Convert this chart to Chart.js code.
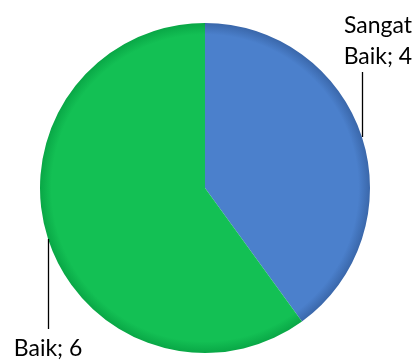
<!DOCTYPE html>
<html>
<head>
<meta charset="utf-8">
<script src="https://cdn.jsdelivr.net/npm/chart.js@4/dist/chart.umd.min.js"></script>
<style>
  html, body { margin: 0; padding: 0; background: #fff; }
  #wrap { width: 416px; height: 361px; }
</style>
</head>
<body>
<div id="wrap"><canvas id="chart-pie" width="416" height="361"></canvas></div>
<script>
const categories = ["Sangat Baik", "Baik"];
const counts = [4, 6];
const sliceColors = [["#4b80cc", "#3a67aa"], ["#13c054", "#09a746"]];

// label text lines, split the way the reference wraps them
const labelLines = [["Sangat", "Baik; 4"], ["Baik; 6"]];

const leaderLabels = {
    id: 'leaderLabels',
    afterDatasetsDraw(chart) {
        const ctx = chart.ctx;
        const arcs = chart.getDatasetMeta(0).data;
        ctx.save();
        ctx.font = '23px Lato, "Open Sans", sans-serif';
        ctx.fillStyle = '#000';
        ctx.strokeStyle = '#000';
        ctx.lineWidth = 1.3;
        ctx.textAlign = 'center';
        ctx.textBaseline = 'alphabetic';
        arcs.forEach((arc, i) => {
            const mid = (arc.startAngle + arc.endAngle) / 2;
            const px = arc.x + Math.cos(mid) * arc.outerRadius;
            const py = arc.y + Math.sin(mid) * arc.outerRadius;
            const up = py < arc.y;
            const lineEnd = up ? py - 65 : py + 90;
            ctx.beginPath();
            ctx.moveTo(Math.round(px) + 0.5, py);
            ctx.lineTo(Math.round(px) + 0.5, lineEnd);
            ctx.stroke();
            const lines = labelLines[i];
            if (up) {
                const tx = px + 16;
                for (let k = lines.length - 1, y = lineEnd - 8; k >= 0; k--, y -= 31) {
                    ctx.fillText(lines[k], tx, y);
                }
            } else {
                lines.forEach((t, k) => ctx.fillText(t, px, lineEnd + 27 + k * 31));
            }
        });
        ctx.restore();
    }
};

new Chart(document.getElementById("chart-pie"), {
    type: 'pie',
    data: {
        labels: categories,
        datasets: [{
            data: counts,
            borderWidth: 0,
            backgroundColor: (c) => {
                const chart = c.chart;
                const area = chart.chartArea;
                if (!area) return sliceColors[c.dataIndex][0];
                const cx = (area.left + area.right) / 2;
                const cy = (area.top + area.bottom) / 2;
                const r = Math.min(area.right - area.left, area.bottom - area.top) / 2;
                const g = chart.ctx.createRadialGradient(cx, cy, 0, cx, cy, r);
                const col = sliceColors[c.dataIndex];
                g.addColorStop(0, col[0]);
                g.addColorStop(0.93, col[0]);
                g.addColorStop(1, col[1]);
                return g;
            }
        }]
    },
    options: {
        responsive: false,
        animation: false,
        layout: { padding: { left: 40, right: 46, top: 23, bottom: 8 } },
        plugins: {
            legend: { display: false },
            tooltip: { enabled: false }
        }
    },
    plugins: [leaderLabels]
});
</script>
</body>
</html>
